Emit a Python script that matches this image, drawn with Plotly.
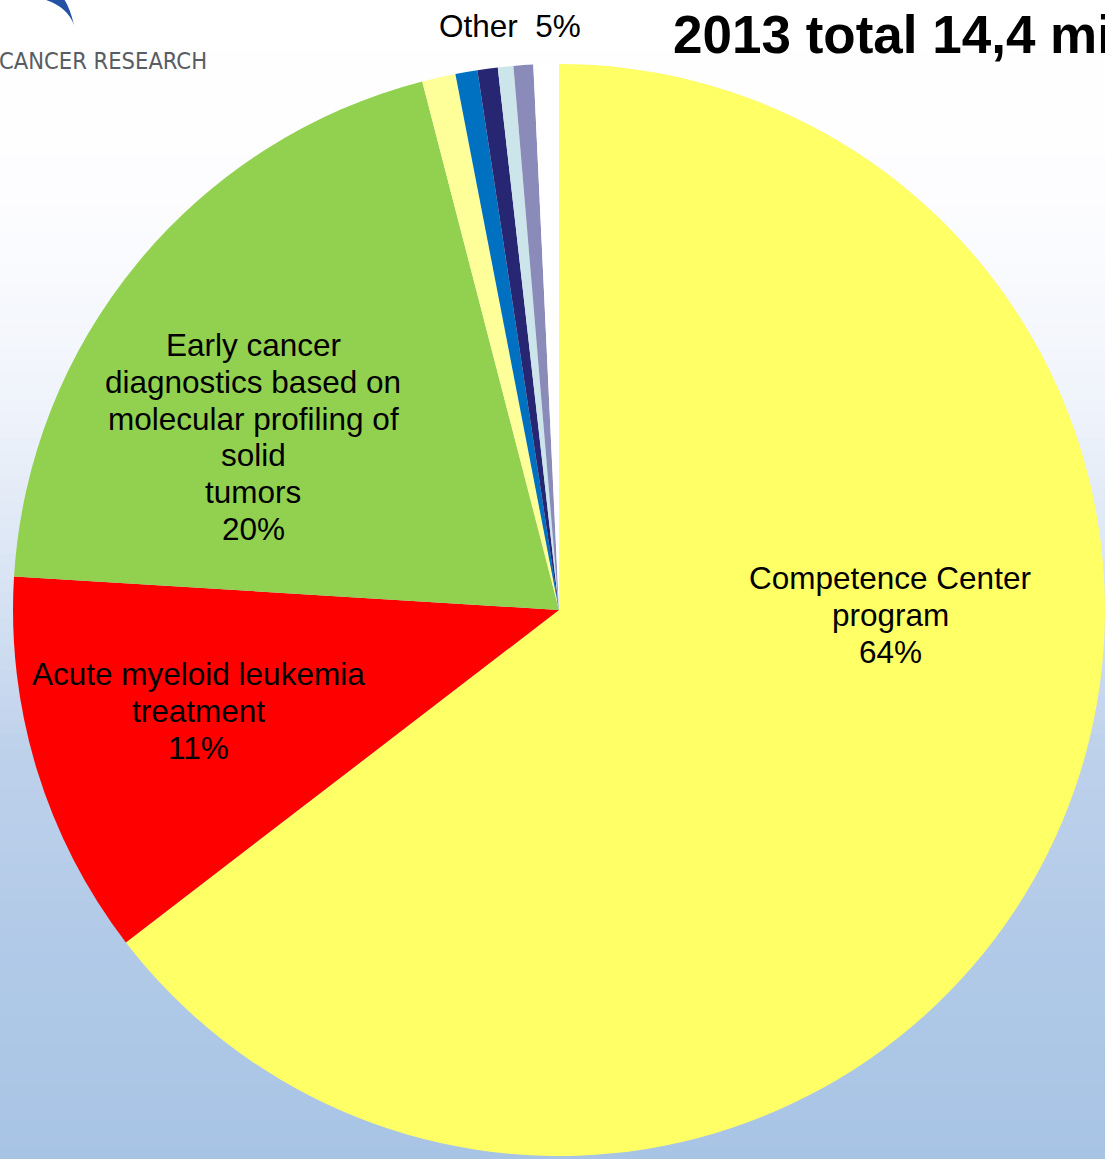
import plotly.graph_objects as go

W, H = 1105, 1159

# ---- data ----
slice_names = ["Competence Center program", "Acute myeloid leukemia treatment",
               "Early cancer diagnostics based on molecular profiling of solid tumors",
               "Other 1", "Other 2", "Other 3", "Other 4", "Other 5", "Other 6"]
slice_values = [64.6, 11.4, 20.0, 0.99, 0.65, 0.60, 0.46, 0.58, 0.75]
slice_colors = ["#FFFF66", "#FF0000", "#92D050", "#FFFF99", "#0070C0",
                "#262673", "#CCE5EA", "#8B8BBA", "#FFFFFF"]

label_cc = ["Competence Center", "program", "64%"]
label_ecd = ["Early cancer", "diagnostics based on", "molecular profiling of",
             "solid", "tumors", "20%"]
label_aml = ["Acute myeloid leukemia", "treatment", "11%"]
label_other = "Other\u00a0 5%"
title_text = "2013 total 14,4 million EUR"
logo_text = "CANCER RESEARCH"


def px(x):
    return x / W


def py(y):
    return 1 - y / H


# ---- figure ----
cx, cy, r = 559, 610, 546
fig = go.Figure()
fig.add_trace(go.Pie(
    labels=slice_names, values=slice_values, sort=False,
    direction="clockwise", rotation=0,
    marker=dict(colors=slice_colors, line=dict(width=0)),
    textinfo="none", hoverinfo="label+percent", showlegend=False,
    domain=dict(x=[px(cx - r), min(1.0, px(cx + r))],
                y=[max(0.0, py(cy + r)), py(cy - r)]),
))

# background gradient bands
stops = [(0, (255, 255, 255)), (200, (253, 253, 255)), (400, (240, 244, 251)),
         (600, (214, 226, 243)), (750, (190, 209, 235)), (1000, (174, 200, 231)),
         (1159, (168, 196, 228))]


def col_at(y):
    for (y0, c0), (y1, c1) in zip(stops[:-1], stops[1:]):
        if y0 <= y <= y1:
            t = (y - y0) / (y1 - y0)
            return "rgb(%d,%d,%d)" % tuple(round(a + (b - a) * t) for a, b in zip(c0, c1))
    return "rgb(%d,%d,%d)" % stops[-1][1]


shapes = []
nb = 90
for i in range(nb):
    y0 = H * i / nb
    y1 = H * (i + 1) / nb + 1
    shapes.append(dict(type="rect", xref="paper", yref="paper", layer="below",
                       x0=0, x1=1, y0=py(y1), y1=py(y0),
                       fillcolor=col_at((y0 + y1) / 2), line=dict(width=0)))

# logo swoosh (crescent)
sw = [(43, -1), (67, 6), (74, 25), (70, 8), (64, -1)]
path = "M %f %f Q %f %f %f %f Q %f %f %f %f Z" % (
    px(sw[0][0]), py(sw[0][1]), px(sw[1][0]), py(sw[1][1]), px(sw[2][0]), py(sw[2][1]),
    px(sw[3][0]), py(sw[3][1]), px(sw[4][0]), py(sw[4][1]))
shapes.append(dict(type="path", xref="paper", yref="paper", path=path,
                   fillcolor="#2351a6", line=dict(width=0), layer="above"))

ann = []
font = dict(family="Liberation Sans, Arial, sans-serif", size=31.5, color="#000000")


def add_lines(lines, x, y0, step=36.8):
    for i, t in enumerate(lines):
        ann.append(dict(text=t, x=px(x), y=py(y0 + i * step), xref="paper", yref="paper",
                        xanchor="center", yanchor="middle", showarrow=False, font=font))


add_lines(label_cc, 890, 578)
add_lines(label_ecd, 253, 345)
add_lines(label_aml, 198, 674)
ann.append(dict(text=label_other, x=px(510), y=py(26), xref="paper", yref="paper",
                xanchor="center", yanchor="middle", showarrow=False, font=font))
ann.append(dict(text="<b>" + title_text + "</b>", x=px(671), y=py(34), xref="paper",
                yref="paper", xanchor="left", yanchor="middle", showarrow=False,
                font=dict(family="Liberation Sans, Arial, sans-serif", size=53, color="#000000")))
ann.append(dict(text=logo_text, x=px(-3), y=py(61), xref="paper", yref="paper",
                xanchor="left", yanchor="middle", showarrow=False,
                font=dict(family="DejaVu Sans Condensed, sans-serif",
                          size=23.5, color="#585d63")))

fig.update_layout(width=W, height=H, margin=dict(l=0, r=0, t=0, b=0),
                  paper_bgcolor="white", plot_bgcolor="white",
                  shapes=shapes, annotations=ann)

fig.write_html("out.html", config={"displayModeBar": False},
               post_script="document.body.style.margin='0';"
                           "document.documentElement.style.overflow='hidden';")
